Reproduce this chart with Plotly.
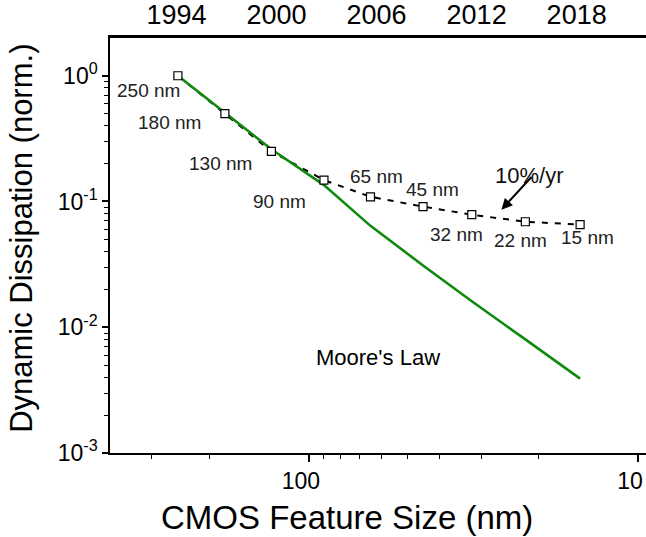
import numpy as np
import plotly.graph_objects as go

# ---- data ----
nodes_nm = [250, 180, 130, 90, 65, 45, 32, 22, 15]
node_labels = ["250 nm", "180 nm", "130 nm", "90 nm", "65 nm", "45 nm", "32 nm", "22 nm", "15 nm"]
dissipation = [1.0, 0.5, 0.25, 0.148, 0.109, 0.091, 0.0785, 0.069, 0.0655]
moore_nm = [250, 180, 130, 90, 65, 45, 32, 22, 15]
moore_law = [1.0, 0.51, 0.26, 0.135, 0.064, 0.031, 0.0161, 0.0080, 0.0039]
years = [1994, 2000, 2006, 2012, 2018]
x_tick_vals = [100, 10]
x_tick_text = ["100", "10"]
x_minor_vals = [300, 200, 90, 80, 70, 60, 50, 40, 30, 20]
y_tick_vals = [1e-3, 1e-2, 1e-1, 1]
y_tick_text = ["10<sup>-3</sup>", "10<sup>-2</sup>", "10<sup>-1</sup>", "10<sup>0</sup>"]
y_minor_vals = [m * 10.0 ** e for e in (-3, -2, -1) for m in range(2, 10)]
rate_label = "10%/yr"
rate_arrow_tip = (26.0, 0.086)
moore_label = "Moore's Law"
x_title = "CMOS Feature Size (nm)"
y_title = "Dynamic Dissipation (norm.)"

# ---- label placement (pixel offsets from node) ----
label_shift = [(-29, -15), (-55, -9), (-51, -12), (-44, -21), (6, 20),
               (9, 17), (-15, -20), (-5, -19), (7, -13)]

FONT = "Liberation Sans, Arial, sans-serif"
GREEN = "#0e8a0e"

fig = go.Figure()

fig.add_trace(go.Scatter(
    x=nodes_nm, y=dissipation, mode="lines",
    line=dict(color="black", width=2, dash="6px,7px"),
    hoverinfo="skip", showlegend=False))
fig.add_trace(go.Scatter(
    x=moore_nm, y=moore_law, mode="lines",
    line=dict(color=GREEN, width=2.6),
    hoverinfo="skip", showlegend=False))
fig.add_trace(go.Scatter(
    x=nodes_nm, y=dissipation, mode="markers",
    marker=dict(symbol="square", size=8, color="white",
                line=dict(color="black", width=1.2)),
    hoverinfo="skip", showlegend=False))
# invisible trace to carry the top (year) axis
fig.add_trace(go.Scatter(
    x=years, y=[1] * len(years), xaxis="x2", mode="markers",
    marker=dict(opacity=0), hoverinfo="skip", showlegend=False))

annotations = []
for nm, v, txt, (dx, dy) in zip(nodes_nm, dissipation, node_labels, label_shift):
    annotations.append(dict(
        x=np.log10(nm), y=np.log10(v), xref="x", yref="y", text=txt,
        showarrow=False, xshift=dx, yshift=dy,
        font=dict(family=FONT, size=19, color="#222")))

annotations.append(dict(
    x=np.log10(rate_arrow_tip[0]), y=np.log10(rate_arrow_tip[1]),
    xref="x", yref="y", text=" ", showarrow=True,
    ax=33, ay=-36, arrowhead=2, arrowsize=1.1, arrowwidth=2,
    arrowcolor="black", standoff=0))
annotations.append(dict(
    x=0.849, y=0.703, xref="paper", yref="paper", text=rate_label,
    showarrow=False, font=dict(family=FONT, size=22, color="#111")))
annotations.append(dict(
    x=0.5, y=0.194, xref="paper", yref="paper", text=moore_label,
    showarrow=False, font=dict(family=FONT, size=22, color="black")))
annotations.append(dict(
    x=0.442, y=0, xref="paper", yref="paper", yanchor="middle", yshift=-64,
    text=x_title, showarrow=False, font=dict(family=FONT, size=33, color="black")))
annotations.append(dict(
    x=0, y=0.516, xref="paper", yref="paper", xanchor="center", yanchor="middle",
    xshift=-88, textangle=-90,
    text=y_title, showarrow=False, font=dict(family=FONT, size=31, color="black")))

xr = [np.log10(402), np.log10(9.46)]
fig.update_layout(
    width=646, height=537,
    margin=dict(l=110, r=0, t=35, b=84),
    paper_bgcolor="white", plot_bgcolor="white",
    showlegend=False,
    xaxis=dict(
        type="log", range=xr, showgrid=False, zeroline=False,
        showline=True, linecolor="black", linewidth=1.5,
        ticks="outside", ticklen=7, tickwidth=1.5, tickcolor="black",
        tickvals=x_tick_vals, ticktext=x_tick_text, ticklabelshift=8,
        tickfont=dict(family=FONT, size=23, color="black"),
        minor=dict(tickvals=x_minor_vals, ticks="outside", ticklen=4,
                   tickwidth=1.2, tickcolor="black", showgrid=False),
    ),
    xaxis2=dict(
        overlaying="x", side="top", anchor="y",
        range=[1990.01, 2022.16], showgrid=False, zeroline=False,
        showline=True, linecolor="black", linewidth=2.5,
        ticks="", tickvals=years,
        tickfont=dict(family=FONT, size=27, color="black"),
    ),
    yaxis=dict(
        type="log", range=[-3, 0.30], showgrid=False, zeroline=False,
        showline=True, linecolor="black", linewidth=1.5,
        ticks="outside", ticklen=6, tickwidth=1.5, tickcolor="black",
        tickvals=y_tick_vals, ticktext=y_tick_text,
        tickfont=dict(family=FONT, size=23, color="black"),
        minor=dict(tickvals=y_minor_vals, ticks="outside", ticklen=4,
                   tickwidth=1.2, tickcolor="black", showgrid=False),
    ),
    annotations=annotations,
)

fig.write_html("out.html")
